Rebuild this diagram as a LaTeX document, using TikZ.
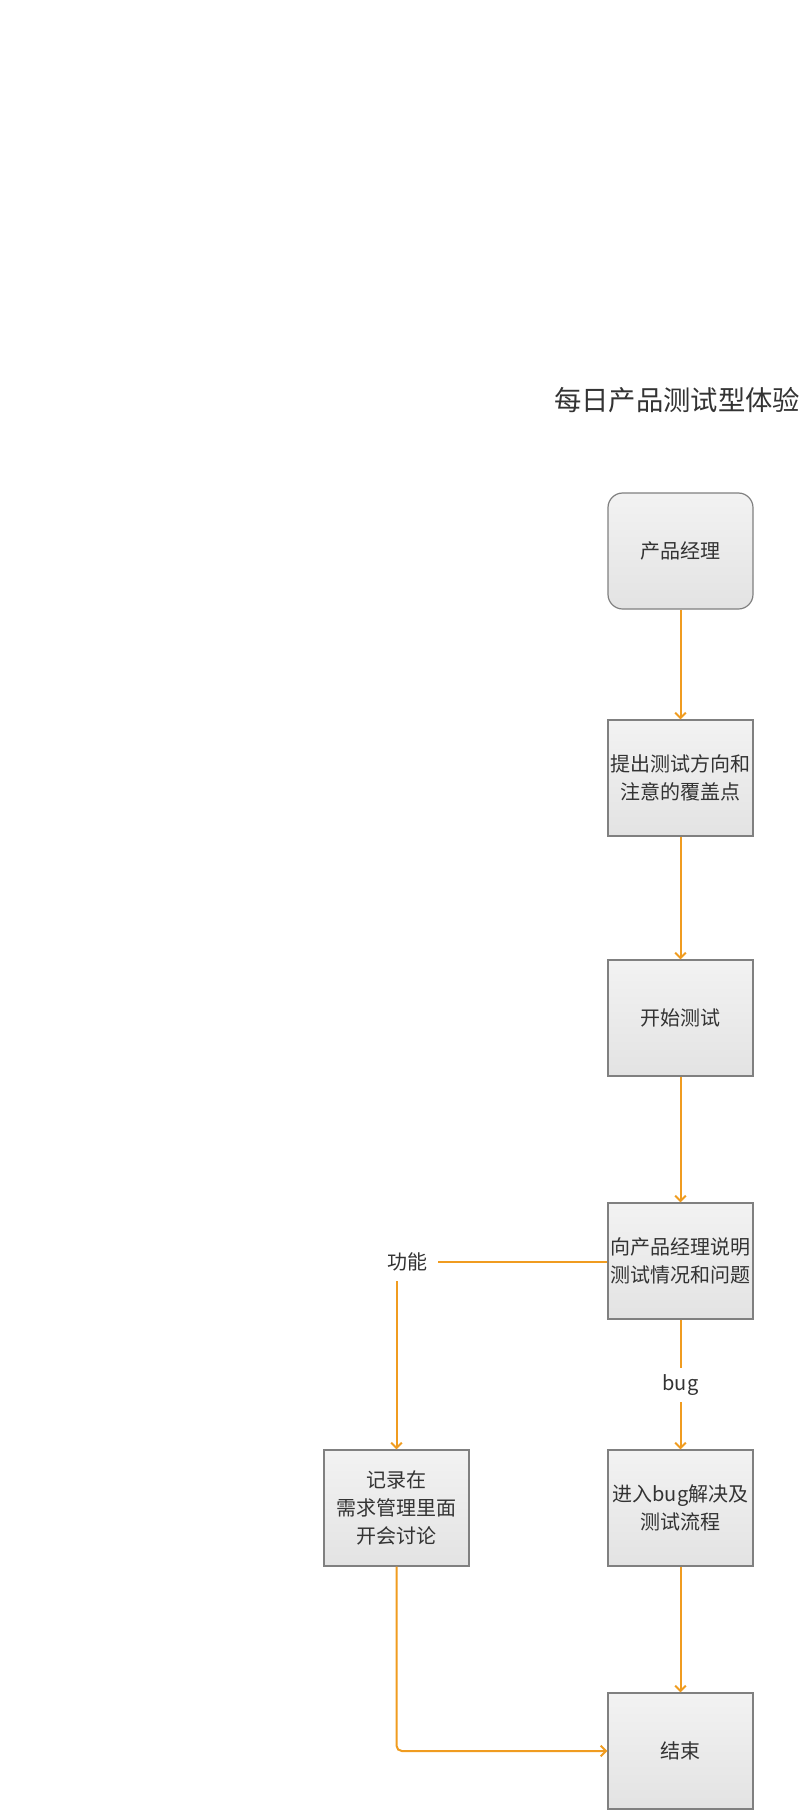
\documentclass[tikz,border=0pt]{standalone}
\usepackage{fontspec}
\usepackage{tikz}
\usetikzlibrary{arrows.meta}
\setmainfont{Noto Sans CJK SC}
\definecolor{flowline}{RGB}{240,156,32}
\definecolor{boxline}{RGB}{128,128,128}
\definecolor{txt}{RGB}{51,51,51}

\begin{document}
\begin{tikzpicture}[x=0.75pt,y=-0.75pt,
	block/.style={rectangle,draw=boxline,line width=0.9pt,top color=black!5,bottom color=black!11,
	minimum width=108.75pt,minimum height=87pt,inner sep=0pt,align=center,text=txt,
	font=\fontsize{15pt}{21pt}\selectfont},
	startbox/.style={block,rounded corners=11pt},
	tag/.style={inner sep=0pt,text=txt,font=\fontsize{15pt}{21pt}\selectfont},
	flow/.style={draw=flowline,line width=1.5pt,>={Straight Barb[length=4pt,width=8pt]}}]
\fill[white] (0,0) rectangle (807,1810);
\useasboundingbox (0,0) rectangle (807,1810);
\node[anchor=west,inner sep=0pt,text=txt,font=\fontsize{20.5pt}{25pt}\selectfont] (title) at (554,400) {每日产品测试型体验};
\node[startbox] (pm) at (680.5,551) {产品经理};
\node[block] (plan) at (680.5,778) {提出测试方向和\\注意的覆盖点};
\node[block] (test) at (680.5,1018) {开始测试};
\node[block] (report) at (680.5,1261) {向产品经理说明\\测试情况和问题};
\node[block] (record) at (396.5,1508) {记录在\\需求管理里面\\开会讨论};
\node[block] (bugflow) at (680.5,1508) {进入bug解决及\\测试流程};
\node[block] (done) at (680.5,1751) {结束};
\node[tag,minimum width=46.5pt,minimum height=28.5pt] (feat) at (407,1262) {功能};
\node[tag,minimum height=25.5pt] (bug) at (680.5,1385) {bug};
\draw[flow,->] (pm) -- (plan);
\draw[flow,->] (plan) -- (test);
\draw[flow,->] (test) -- (report);
\draw[flow] (report.west |- feat.east) -- (feat.east);
\draw[flow,->] (record.north |- feat.south) -- (record.north);
\draw[flow] (report) -- (bug);
\draw[flow,->] (bug) -- (bugflow);
\draw[flow,->] (bugflow) -- (done);
\draw[flow,->,rounded corners=4pt] (record.south) |- (done.west);
\end{tikzpicture}
\end{document}
